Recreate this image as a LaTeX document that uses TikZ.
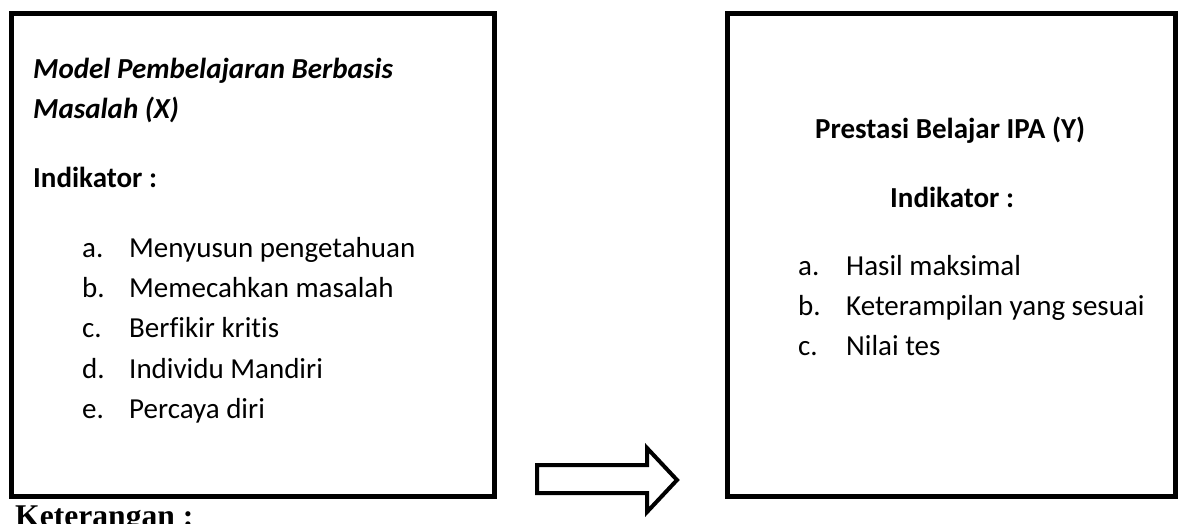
\documentclass[tikz,border=0pt]{standalone}
\usepackage{fontspec}
\setmainfont{Carlito}[Ligatures=NoCommon]
\newfontfamily\ketfont{Liberation Serif}

\begin{document}
\begin{tikzpicture}
      [x=1pt,y=-1pt,%%%%%%%%%%%%%%%%%%%%%%%%%%%%%%
      box/.style={rectangle,draw=black,line width=5pt,inner sep=0pt},
      txt/.style={anchor=base west,inner sep=0pt,font=\fontsize{29}{35}\selectfont},
      headtxt/.style={txt,font=\fontsize{29}{35}\selectfont\bfseries},
      blockarrow/.style={draw=black,line width=4pt,fill=white,line join=miter},
      ]%%%%%%%%%%%%%%%%%%%%%%%%%%%%%%
      \useasboundingbox (0,0) rectangle (1178,523);

      % variabel X
      \node[box,minimum width=483pt,minimum height=482.5pt] (boxX) at (252.5,254.75){};
      \node[headtxt,font=\fontsize{29}{35}\selectfont\bfseries\itshape] (titleX1) at (33,78){Model Pembelajaran Berbasis};
      \node[headtxt,font=\fontsize{29}{35}\selectfont\bfseries\itshape] (titleX2) at (33,118){Masalah (X)};
      \node[headtxt] (indX) at (33,187){Indikator :};
      \foreach \l/\t/\y in {a/Menyusun pengetahuan/257, b/Memecahkan masalah/297,
                            c/Berfikir kritis/337, d/Individu Mandiri/378, e/Percaya diri/418}{
        \node[txt] (labX-\l) at (82,\y){\l.};
        \node[txt] (itemX-\l) at (129,\y){\t};
      }

      % variabel Y
      \node[box,minimum width=448pt,minimum height=482.5pt] (boxY) at (951,254.75){};
      \node[headtxt] (titleY) at (815,138){Prestasi Belajar IPA (Y)};
      \node[headtxt] (indY) at (890,207){Indikator :};
      \foreach \l/\t/\y in {a/Hasil maksimal/275, b/Keterampilan yang sesuai/315, c/Nilai tes/355}{
        \node[txt] (labY-\l) at (798,\y){\l.};
        \node[txt] (itemY-\l) at (846,\y){\t};
      }

      % panah
      \draw[blockarrow] (537,465) -- (647,465) -- (647,448) -- (677,480)
            -- (647,512) -- (647,493) -- (537,493) -- cycle;

      \node[anchor=base west,inner sep=0pt,font=\ketfont\fontsize{31.6}{36}\selectfont\bfseries] (ket) at (15,526){Keterangan :};
    \end{tikzpicture}
\end{document}
